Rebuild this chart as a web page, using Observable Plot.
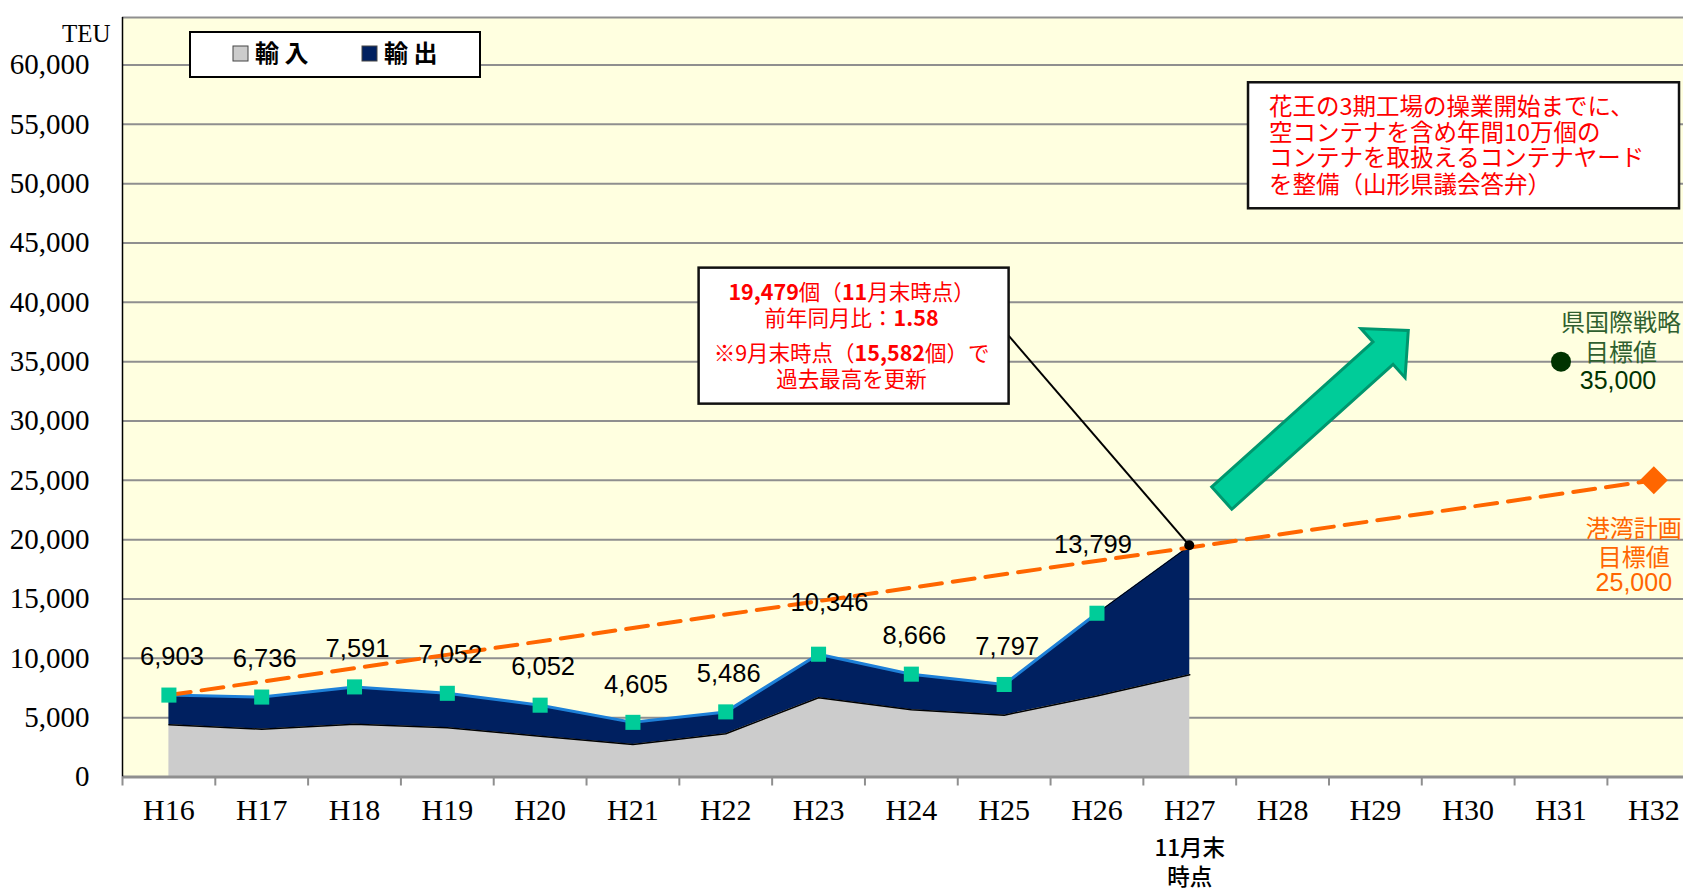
<!DOCTYPE html>
<html><head><meta charset="utf-8">
<script src="https://cdn.jsdelivr.net/npm/d3@7"></script>
<script src="https://cdn.jsdelivr.net/npm/@observablehq/plot@0.6"></script>
<style>
html,body{margin:0;padding:0;background:#fff;overflow:hidden}
#chart{position:relative;width:1683px;height:891px}
</style></head><body><div id="chart"></div>
<script>
// ---- data ----
const categories = ["H16","H17","H18","H19","H20","H21","H22","H23","H24","H25","H26","H27","H28","H29","H30","H31","H32"];
const totalValues  = [6903,6736,7591,7052,6052,4605,5486,10346,8666,7797,13799,19479]; // 輸入+輸出 (H27 = 11月末時点)
const importValues = [4400,4030,4450,4150,3440,2740,3640,6680,5670,5210,6830,8620];    // 輸入
const planCategories = ["H16","H32"];   // 港湾計画 目標ライン
const planValues = [6903,25000];
const prefCategory = "H31";              // 県国際戦略 目標
const prefValue = 35000;
const yTicks = [0,5000,10000,15000,20000,25000,30000,35000,40000,45000,50000,55000,60000];
const yMax = 64000;
const legendLabels = ["輸 入","輸 出"];
const calloutLines1 = ["19,479個（11月末時点）","前年同月比：1.58","※9月末時点（15,582個）で","過去最高を更新"];
const calloutLines2 = ["花王の3期工場の操業開始までに、","空コンテナを含め年間10万個の","コンテナを取扱えるコンテナヤード","を整備（山形県議会答弁）"];

// ---- derived table ----
const xi = c => categories.indexOf(c);
const rows = totalValues.map((t, i) => ({i, cat: categories[i], total: t, imp: importValues[i]}));
const histRows = rows.filter(d => d.i <= xi("H26"));
const lastRows = rows.filter(d => d.i >= xi("H26"));
const planRows = planCategories.map((c, k) => ({i: xi(c), v: planValues[k]}));
const fmt = d3.format(",");

const SANS = "'Liberation Sans', Arial, sans-serif";
const SERIF = "'Liberation Serif', 'Times New Roman', serif";
const JP = "'Noto Sans CJK JP', sans-serif";
const NAVY = "#002060", GRAY = "#CCCCCC", MARK = "#00CC99", ORANGE = "#FF6600";

// annotations drawn with the plot's scales
function annotations(index, scales) {
  const x = scales.x, y = scales.y;
  const g = d3.create("svg:g").attr("text-anchor", "start");

  // legend
  const lg = g.append("g");
  lg.append("rect").attr("x", 190).attr("y", 32).attr("width", 290).attr("height", 45)
    .attr("fill", "white").attr("stroke", "black").attr("stroke-width", 2);
  [[233, GRAY, legendLabels[0]], [362, NAVY, legendLabels[1]]].forEach(([lx, c, t]) => {
    lg.append("rect").attr("x", lx).attr("y", 46).attr("width", 15).attr("height", 15)
      .attr("fill", c).attr("stroke", "#444").attr("stroke-width", 1);
    lg.append("text").attr("x", lx + 22).attr("y", 54).attr("dy", "0.35em").attr("text-anchor", "start")
      .attr("font-family", JP).attr("font-size", 24).attr("font-weight", "bold").attr("fill", "black").text(t);
  });

  // arrow
  const t0 = [x(11.35), y(23460)], t1 = [x(13.36), y(37590)];
  const dx = t1[0] - t0[0], dy = t1[1] - t0[1], L = Math.hypot(dx, dy);
  const u = [dx / L, dy / L], n = [-u[1], u[0]];
  const hl = 34, sw = 15, hw = 33;
  const b = [t1[0] - u[0] * hl, t1[1] - u[1] * hl];
  const P = (p, k, s) => [p[0] + n[0] * k * s, p[1] + n[1] * k * s];
  const pts = [P(t0, 1, sw), P(b, 1, sw), P(b, 1, hw), t1, P(b, -1, hw), P(b, -1, sw), P(t0, -1, sw)];
  g.append("polygon").attr("points", pts.map(p => p.join(",")).join(" "))
    .attr("fill", "#00CC99").attr("stroke", "#00966E").attr("stroke-width", 3).attr("stroke-linejoin", "miter");

  // text with bold number runs
  const rich = (sel, t) => {
    t.split(/([\d][\d.,]+)/).forEach(part => {
      if (!part) return;
      sel.append("tspan").attr("font-weight", /^\d[\d.,]+$/.test(part) ? "bold" : null).text(part);
    });
  };

  // callout 1
  const bx1 = x(5.713), by1 = y(42880), bw1 = 310, bh1 = 136;
  g.append("line").attr("x1", bx1 + bw1).attr("y1", by1 + 68)
    .attr("x2", x(xi("H27"))).attr("y2", y(totalValues[xi("H27")]))
    .attr("stroke", "black").attr("stroke-width", 2);
  g.append("rect").attr("x", bx1).attr("y", by1).attr("width", bw1).attr("height", bh1)
    .attr("fill", "white").attr("stroke", "#111").attr("stroke-width", 2.5);
  const off1 = [24.7, 50.3, 86, 112];
  calloutLines1.forEach((t, k) => {
    const tx = g.append("text").attr("x", bx1 + bw1 / 2 - 2).attr("y", by1 + off1[k]).attr("dy", "0.36em")
      .attr("text-anchor", "middle").attr("font-family", JP).attr("font-size", 21.5).attr("fill", "#FF0000");
    rich(tx, t);
  });

  // callout 2
  const bx2 = x(11.633), by2 = y(58500), bw2 = 431, bh2 = 126;
  g.append("rect").attr("x", bx2).attr("y", by2).attr("width", bw2).attr("height", bh2)
    .attr("fill", "white").attr("stroke", "#111").attr("stroke-width", 2.5);
  const off2 = [24, 50, 75, 102.5];
  calloutLines2.forEach((t, k) => {
    g.append("text").attr("x", bx2 + 21).attr("y", by2 + off2[k]).attr("dy", "0.36em").attr("text-anchor", "start")
      .attr("font-family", JP).attr("font-size", 23.5).attr("fill", "#FF0000").text(t);
  });

  // H27 dot
  g.append("circle").attr("cx", x(xi("H27"))).attr("cy", y(totalValues[xi("H27")])).attr("r", 5).attr("fill", "black");
  return g.node();
}

const chart = Plot.plot({
  width: 1683, height: 891,
  marginLeft: 122, marginRight: 0, marginTop: 17, marginBottom: 114.5,
  style: {background: "white", fontFamily: SANS, overflow: "hidden"},
  x: {type: "linear", domain: [-0.5, 16.32]},
  y: {domain: [0, yMax]},
  marks: [
    Plot.frame({fill: "#FFFFE0", stroke: "none"}),
    Plot.ruleY(yTicks.filter(v => v > 0).concat([yMax]), {stroke: "#8F8F8F", strokeWidth: 2}),
    // areas
    Plot.areaY(rows, {x: "i", y1: 0, y2: "imp", fill: GRAY}),
    Plot.areaY(rows, {x: "i", y1: "imp", y2: "total", fill: NAVY}),
    Plot.line(rows, {x: "i", y: "imp", stroke: "black", strokeWidth: 1.5}),
    Plot.line(histRows, {x: "i", y: "total", stroke: "#1E80D8", strokeWidth: 3}),
    Plot.line(lastRows, {x: "i", y: "total", stroke: "black", strokeWidth: 1}),
    // axes
    Plot.ruleY([0], {stroke: "#8F8F8F", strokeWidth: 3}),
    Plot.ruleX([-0.5], {stroke: "black", strokeWidth: 1.5}),
    Plot.axisX({ticks: d3.range(categories.length + 1).map(k => k - 0.5), tickSize: 9, stroke: "#8F8F8F", strokeWidth: 2, tickFormat: () => "", label: null}),
    Plot.axisX({ticks: d3.range(categories.length), tickSize: 0, tickPadding: 22, tickFormat: k => categories[k], fontFamily: SERIF, fontSize: 30, fill: "black", label: null}),
    Plot.axisY({anchor: "left", ticks: yTicks, tickSize: 0, tickPadding: 33, tickFormat: fmt, fontFamily: SERIF, fontSize: 29, fill: "black", label: null}),
    Plot.text(["TEU"], {frameAnchor: "top-left", dx: -12, dy: 7, textAnchor: "end", fontFamily: SERIF, fontSize: 25, fill: "black"}),
    Plot.text(["11月末\n時点"], {x: xi("H27"), frameAnchor: "bottom", lineAnchor: "middle", dy: 84, lineHeight: 1.3, fontFamily: JP, fontSize: 22.5, fontWeight: "500", fill: "black"}),
    // plan line and targets
    Plot.line(planRows, {x: "i", y: "v", stroke: ORANGE, strokeWidth: 4, strokeDasharray: "22,11"}),
    Plot.dot(histRows, {x: "i", y: "total", symbol: "square", r: 8.5, fill: MARK, stroke: "none"}),
    Plot.dot([prefValue], {x: xi(prefCategory), y: d => d, r: 10, fill: "#003300"}),
    Plot.dot(planRows.slice(-1), {x: "i", y: "v", symbol: "diamond2", r: 12.6, fill: ORANGE}),
    // value labels
    Plot.text(histRows.filter(d => d.cat !== "H23" && d.cat !== "H26"), {x: "i", y: "total", text: d => fmt(d.total), dy: -38, dx: 3, fontFamily: SANS, fontSize: 25.5, fill: "black"}),
    Plot.text(histRows.filter(d => d.cat === "H23"), {x: "i", y: "total", text: d => fmt(d.total), dy: -51, dx: 11, fontFamily: SANS, fontSize: 25.5, fill: "black"}),
    Plot.text(histRows.filter(d => d.cat === "H26"), {x: "i", y: "total", text: d => fmt(d.total), dy: -68, dx: -4, fontFamily: SANS, fontSize: 25.5, fill: "black"}),
    // target labels
    Plot.text(["県国際戦略\n目標値"], {x: xi(prefCategory), y: prefValue, dx: 60, dy: -25, lineHeight: 1.25, fontFamily: JP, fontSize: 24, fill: "#2F5F2F"}),
    Plot.text([prefValue], {x: xi(prefCategory), y: d => d, text: d => fmt(d), dx: 57, dy: 19, fontFamily: SANS, fontSize: 25, fill: "#003300"}),
    Plot.text(["港湾計画\n目標値"], {x: xi("H32"), y: planValues[1], dx: -20, dy: 61.5, lineHeight: 1.22, fontFamily: JP, fontSize: 24, fill: ORANGE}),
    Plot.text([planValues[1]], {x: xi("H32"), y: d => d, text: d => fmt(d), dx: -20, dy: 103, fontFamily: SANS, fontSize: 25, fill: ORANGE}),
    annotations
  ]
});
document.getElementById("chart").appendChild(chart);
</script></body></html>
